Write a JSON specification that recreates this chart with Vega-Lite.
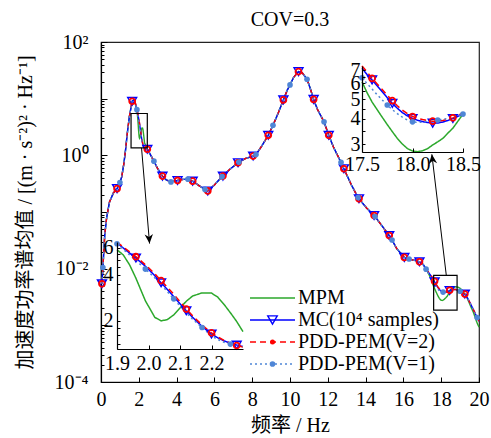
{
  "$schema": "https://vega.github.io/schema/vega-lite/v6.json",
  "width": 378,
  "height": 340,
  "autosize": {"type": "none"},
  "padding": {"left": 101, "top": 42, "right": 12, "bottom": 56},
  "title": {"text": "COV=0.3", "offset": 2},
  "config": {
    "font": "Liberation Serif",
    "view": {"stroke": "#222", "strokeWidth": 1.2},
    "axis": {
      "grid": false,
      "domainColor": "#000",
      "domainWidth": 1.2,
      "tickColor": "#000",
      "labelColor": "#000",
      "titleColor": "#000",
      "labelFont": "Liberation Serif",
      "labelFontSize": 20,
      "labelOverlap": false,
      "titleFont": "Liberation Serif, Noto Sans CJK SC",
      "titleFontSize": 20,
      "titleFontWeight": "normal"
    },
    "title": {"font": "Liberation Serif", "fontSize": 20, "fontWeight": "normal", "color": "#000"},
    "text": {"font": "Liberation Serif", "fontSize": 20, "color": "#000"}
  },
  "datasets": {
    "psd": [
      {"f": 0.05, "MPM": 0.0054, "MC": 0.0054, "V2": 0.0054, "V1": 0.0054},
      {"f": 0.1, "MPM": 0.0105, "MC": 0.0105, "V2": 0.0105, "V1": 0.0105},
      {"f": 0.2, "MPM": 0.04, "MC": 0.04, "V2": 0.04, "V1": 0.04},
      {"f": 0.3, "MPM": 0.08, "MC": 0.08, "V2": 0.08, "V1": 0.08},
      {"f": 0.45, "MPM": 0.15, "MC": 0.15, "V2": 0.15, "V1": 0.15},
      {"f": 0.65, "MPM": 0.215, "MC": 0.215, "V2": 0.215, "V1": 0.215},
      {"f": 0.85, "MPM": 0.258, "MC": 0.258, "V2": 0.258, "V1": 0.258},
      {"f": 1.0, "MPM": 0.33, "MC": 0.33, "V2": 0.33, "V1": 0.33},
      {"f": 1.1, "MPM": 0.42, "MC": 0.42, "V2": 0.42, "V1": 0.42},
      {"f": 1.2, "MPM": 0.68, "MC": 0.68, "V2": 0.68, "V1": 0.68},
      {"f": 1.3, "MPM": 1.25, "MC": 1.25, "V2": 1.25, "V1": 1.25},
      {"f": 1.4, "MPM": 2.6, "MC": 2.6, "V2": 2.6, "V1": 2.6},
      {"f": 1.5, "MPM": 4.8, "MC": 4.8, "V2": 4.8, "V1": 4.8},
      {"f": 1.65, "MPM": 9.0, "MC": 9.0, "V2": 9.0, "V1": 9.0},
      {"f": 1.75, "MPM": 9.6, "MC": 9.6, "V2": 9.6, "V1": 9.6},
      {"f": 1.8, "MPM": 8.6, "MC": 8.8, "V2": 8.9, "V1": 8.7},
      {"f": 1.9, "MPM": 5.84, "MC": 6.47, "V2": 6.55, "V1": 6.4},
      {"f": 1.92, "MPM": 5.4, "MC": 6.0, "V2": 6.1, "V1": 5.88},
      {"f": 1.94, "MPM": 4.65, "MC": 5.55, "V2": 5.66, "V1": 5.4},
      {"f": 1.96, "MPM": 3.8, "MC": 5.15, "V2": 5.26, "V1": 4.98},
      {"f": 1.99, "MPM": 2.7, "MC": 4.55, "V2": 4.66, "V1": 4.36},
      {"f": 2.02, "MPM": 2.1, "MC": 3.95, "V2": 4.06, "V1": 3.82},
      {"f": 2.04, "MPM": 1.99, "MC": 3.54, "V2": 3.66, "V1": 3.45},
      {"f": 2.06, "MPM": 2.03, "MC": 3.2, "V2": 3.31, "V1": 3.1},
      {"f": 2.08, "MPM": 2.18, "MC": 2.88, "V2": 2.98, "V1": 2.78},
      {"f": 2.1, "MPM": 2.42, "MC": 2.58, "V2": 2.66, "V1": 2.5},
      {"f": 2.12, "MPM": 2.68, "MC": 2.32, "V2": 2.38, "V1": 2.25},
      {"f": 2.14, "MPM": 2.9, "MC": 2.1, "V2": 2.15, "V1": 2.04},
      {"f": 2.17, "MPM": 3.04, "MC": 1.83, "V2": 1.87, "V1": 1.8},
      {"f": 2.2, "MPM": 3.03, "MC": 1.63, "V2": 1.66, "V1": 1.59},
      {"f": 2.22, "MPM": 2.85, "MC": 1.54, "V2": 1.56, "V1": 1.5},
      {"f": 2.24, "MPM": 2.55, "MC": 1.47, "V2": 1.48, "V1": 1.44},
      {"f": 2.26, "MPM": 2.25, "MC": 1.42, "V2": 1.42, "V1": 1.4},
      {"f": 2.28, "MPM": 1.97, "MC": 1.38, "V2": 1.37, "V1": 1.37},
      {"f": 2.3, "MPM": 1.69, "MC": 1.35, "V2": 1.34, "V1": 1.35},
      {"f": 2.37, "MPM": 1.45, "MC": 1.31, "V2": 1.31, "V1": 1.31},
      {"f": 2.45, "MPM": 1.29, "MC": 1.28, "V2": 1.28, "V1": 1.28},
      {"f": 2.6, "MPM": 1.05, "MC": 1.05, "V2": 1.05, "V1": 1.05},
      {"f": 2.8, "MPM": 0.79, "MC": 0.79, "V2": 0.79, "V1": 0.79},
      {"f": 3.0, "MPM": 0.58, "MC": 0.58, "V2": 0.58, "V1": 0.58},
      {"f": 3.25, "MPM": 0.43, "MC": 0.43, "V2": 0.43, "V1": 0.43},
      {"f": 3.45, "MPM": 0.37, "MC": 0.37, "V2": 0.37, "V1": 0.37},
      {"f": 3.7, "MPM": 0.34, "MC": 0.34, "V2": 0.34, "V1": 0.34},
      {"f": 4.05, "MPM": 0.36, "MC": 0.36, "V2": 0.36, "V1": 0.36},
      {"f": 4.3, "MPM": 0.375, "MC": 0.375, "V2": 0.375, "V1": 0.375},
      {"f": 4.6, "MPM": 0.38, "MC": 0.38, "V2": 0.38, "V1": 0.38},
      {"f": 4.85, "MPM": 0.35, "MC": 0.35, "V2": 0.35, "V1": 0.35},
      {"f": 5.2, "MPM": 0.29, "MC": 0.29, "V2": 0.29, "V1": 0.29},
      {"f": 5.5, "MPM": 0.25, "MC": 0.25, "V2": 0.25, "V1": 0.25},
      {"f": 5.65, "MPM": 0.235, "MC": 0.235, "V2": 0.235, "V1": 0.235},
      {"f": 6.0, "MPM": 0.3, "MC": 0.3, "V2": 0.3, "V1": 0.3},
      {"f": 6.4, "MPM": 0.42, "MC": 0.42, "V2": 0.42, "V1": 0.42},
      {"f": 6.45, "MPM": 0.43, "MC": 0.43, "V2": 0.43, "V1": 0.43},
      {"f": 6.8, "MPM": 0.56, "MC": 0.56, "V2": 0.56, "V1": 0.56},
      {"f": 7.25, "MPM": 0.74, "MC": 0.74, "V2": 0.74, "V1": 0.74},
      {"f": 7.3, "MPM": 0.76, "MC": 0.76, "V2": 0.76, "V1": 0.76},
      {"f": 7.65, "MPM": 0.88, "MC": 0.88, "V2": 0.88, "V1": 0.88},
      {"f": 8.05, "MPM": 0.97, "MC": 0.97, "V2": 0.97, "V1": 0.97},
      {"f": 8.2, "MPM": 1.03, "MC": 1.03, "V2": 1.03, "V1": 1.03},
      {"f": 8.5, "MPM": 1.45, "MC": 1.45, "V2": 1.45, "V1": 1.45},
      {"f": 8.85, "MPM": 2.26, "MC": 2.26, "V2": 2.26, "V1": 2.26},
      {"f": 9.1, "MPM": 3.4, "MC": 3.4, "V2": 3.4, "V1": 3.4},
      {"f": 9.35, "MPM": 5.3, "MC": 5.3, "V2": 5.3, "V1": 5.3},
      {"f": 9.65, "MPM": 9.5, "MC": 9.5, "V2": 9.5, "V1": 9.5},
      {"f": 9.85, "MPM": 14, "MC": 14, "V2": 14, "V1": 14},
      {"f": 10.0, "MPM": 17.5, "MC": 17.5, "V2": 17.5, "V1": 17.5},
      {"f": 10.2, "MPM": 24, "MC": 24, "V2": 24, "V1": 24},
      {"f": 10.45, "MPM": 30, "MC": 30, "V2": 30, "V1": 30},
      {"f": 10.65, "MPM": 28.5, "MC": 28.5, "V2": 28.5, "V1": 28.5},
      {"f": 10.9, "MPM": 22, "MC": 22, "V2": 22, "V1": 22},
      {"f": 11.05, "MPM": 16, "MC": 16, "V2": 16, "V1": 16},
      {"f": 11.25, "MPM": 9.7, "MC": 9.7, "V2": 9.7, "V1": 9.7},
      {"f": 11.45, "MPM": 6.5, "MC": 6.5, "V2": 6.5, "V1": 6.5},
      {"f": 11.8, "MPM": 3.9, "MC": 3.9, "V2": 3.9, "V1": 3.9},
      {"f": 12.05, "MPM": 2.26, "MC": 2.26, "V2": 2.26, "V1": 2.26},
      {"f": 12.3, "MPM": 1.4, "MC": 1.4, "V2": 1.4, "V1": 1.4},
      {"f": 12.7, "MPM": 0.75, "MC": 0.75, "V2": 0.75, "V1": 0.75},
      {"f": 12.85, "MPM": 0.58, "MC": 0.58, "V2": 0.58, "V1": 0.58},
      {"f": 13.25, "MPM": 0.3, "MC": 0.3, "V2": 0.3, "V1": 0.3},
      {"f": 13.6, "MPM": 0.18, "MC": 0.18, "V2": 0.18, "V1": 0.18},
      {"f": 13.65, "MPM": 0.171, "MC": 0.171, "V2": 0.171, "V1": 0.171},
      {"f": 14.05, "MPM": 0.118, "MC": 0.118, "V2": 0.118, "V1": 0.118},
      {"f": 14.45, "MPM": 0.0867, "MC": 0.0867, "V2": 0.0867, "V1": 0.0867},
      {"f": 14.5, "MPM": 0.083, "MC": 0.083, "V2": 0.083, "V1": 0.083},
      {"f": 14.85, "MPM": 0.058, "MC": 0.058, "V2": 0.058, "V1": 0.058},
      {"f": 15.25, "MPM": 0.0384, "MC": 0.0384, "V2": 0.0384, "V1": 0.0384},
      {"f": 15.4, "MPM": 0.032, "MC": 0.032, "V2": 0.032, "V1": 0.032},
      {"f": 15.65, "MPM": 0.0225, "MC": 0.0225, "V2": 0.0225, "V1": 0.0225},
      {"f": 16.05, "MPM": 0.0158, "MC": 0.0158, "V2": 0.0158, "V1": 0.0158},
      {"f": 16.3, "MPM": 0.0148, "MC": 0.0148, "V2": 0.0148, "V1": 0.0148},
      {"f": 16.6, "MPM": 0.014, "MC": 0.014, "V2": 0.014, "V1": 0.014},
      {"f": 16.85, "MPM": 0.0132, "MC": 0.0132, "V2": 0.0132, "V1": 0.0132},
      {"f": 17.05, "MPM": 0.0118, "MC": 0.0118, "V2": 0.0118, "V1": 0.0118},
      {"f": 17.2, "MPM": 0.0098, "MC": 0.0098, "V2": 0.0098, "V1": 0.0098},
      {"f": 17.35, "MPM": 0.0079, "MC": 0.0084, "V2": 0.0085, "V1": 0.0079},
      {"f": 17.5, "MPM": 0.00612, "MC": 0.00714, "V2": 0.00733, "V1": 0.00641},
      {"f": 17.55, "MPM": 0.0054, "MC": 0.00665, "V2": 0.00685, "V1": 0.006},
      {"f": 17.6, "MPM": 0.00485, "MC": 0.00625, "V2": 0.00636, "V1": 0.00563},
      {"f": 17.65, "MPM": 0.00445, "MC": 0.00585, "V2": 0.00597, "V1": 0.00528},
      {"f": 17.7, "MPM": 0.00408, "MC": 0.00546, "V2": 0.0056, "V1": 0.00497},
      {"f": 17.75, "MPM": 0.00375, "MC": 0.0051, "V2": 0.00525, "V1": 0.00469},
      {"f": 17.8, "MPM": 0.00346, "MC": 0.00478, "V2": 0.00493, "V1": 0.00445},
      {"f": 17.85, "MPM": 0.0032, "MC": 0.00452, "V2": 0.00465, "V1": 0.00425},
      {"f": 17.9, "MPM": 0.003, "MC": 0.0043, "V2": 0.00442, "V1": 0.00408},
      {"f": 17.95, "MPM": 0.00285, "MC": 0.00414, "V2": 0.00425, "V1": 0.00395},
      {"f": 18.0, "MPM": 0.00277, "MC": 0.00402, "V2": 0.00411, "V1": 0.00387},
      {"f": 18.05, "MPM": 0.00275, "MC": 0.00394, "V2": 0.00403, "V1": 0.00384},
      {"f": 18.1, "MPM": 0.00278, "MC": 0.00388, "V2": 0.00397, "V1": 0.00386},
      {"f": 18.15, "MPM": 0.00285, "MC": 0.00384, "V2": 0.00392, "V1": 0.0039},
      {"f": 18.2, "MPM": 0.00297, "MC": 0.00381, "V2": 0.0039, "V1": 0.00394},
      {"f": 18.25, "MPM": 0.00308, "MC": 0.00382, "V2": 0.0039, "V1": 0.00395},
      {"f": 18.3, "MPM": 0.0032, "MC": 0.00386, "V2": 0.00393, "V1": 0.00398},
      {"f": 18.35, "MPM": 0.0034, "MC": 0.00393, "V2": 0.00398, "V1": 0.00402},
      {"f": 18.4, "MPM": 0.0036, "MC": 0.00402, "V2": 0.00405, "V1": 0.00408},
      {"f": 18.45, "MPM": 0.0039, "MC": 0.00412, "V2": 0.00416, "V1": 0.00415},
      {"f": 18.5, "MPM": 0.00423, "MC": 0.00423, "V2": 0.00428, "V1": 0.00423},
      {"f": 18.6, "MPM": 0.0046, "MC": 0.0043, "V2": 0.0043, "V1": 0.0043},
      {"f": 18.75, "MPM": 0.0048, "MC": 0.0043, "V2": 0.0043, "V1": 0.0043},
      {"f": 18.9, "MPM": 0.0047, "MC": 0.0041, "V2": 0.0041, "V1": 0.0041},
      {"f": 19.0, "MPM": 0.0045, "MC": 0.004, "V2": 0.004, "V1": 0.004},
      {"f": 19.1, "MPM": 0.0042, "MC": 0.0038, "V2": 0.0038, "V1": 0.0038},
      {"f": 19.25, "MPM": 0.0036, "MC": 0.00356, "V2": 0.00356, "V1": 0.00356},
      {"f": 19.4, "MPM": 0.0029, "MC": 0.003, "V2": 0.003, "V1": 0.003},
      {"f": 19.55, "MPM": 0.0022, "MC": 0.0024, "V2": 0.0024, "V1": 0.0024},
      {"f": 19.7, "MPM": 0.0017, "MC": 0.0019, "V2": 0.0019, "V1": 0.0019},
      {"f": 19.9, "MPM": 0.0011, "MC": 0.00137, "V2": 0.00137, "V1": 0.00137},
      {"f": 20.0, "MPM": 0.00093, "MC": 0.00118, "V2": 0.00118, "V1": 0.00118}
    ],
    "legendRows": [
      {"s": "MPM", "label": "MPM"},
      {"s": "MC", "label": "MC(10⁴ samples)"},
      {"s": "V2", "label": "PDD-PEM(V=2)"},
      {"s": "V1", "label": "PDD-PEM(V=1)"}
    ],
    "zoomBoxes": [
      {"f0": 1.59, "f1": 2.45, "v0": 1.35, "v1": 5.47},
      {"f0": 17.6, "f1": 18.84, "v0": 0.00185, "v1": 0.0076}
    ],
    "pointers": [
      {"f0": 2.145, "v0": 1.35, "f1": 2.569, "v1": 0.0277, "heading": -4.8},
      {"f0": 18.27, "v0": 0.0076, "f1": 17.505, "v1": 1.04, "heading": 173.2}
    ]
  },
  "layer": [
    {
      "data": {"name": "psd"},
      "encoding": {
        "x": {
          "field": "f", "type": "quantitative",
          "scale": {"domain": [0, 20], "nice": false},
          "axis": {"title": "频率 / Hz", "values": [0, 2, 4, 6, 8, 10, 12, 14, 16, 18, 20], "tickSize": -5, "labelPadding": 12, "titlePadding": 6, "labelFlush": false}
        },
        "y": {
          "field": "v", "type": "quantitative",
          "scale": {"type": "log", "domain": [0.0001, 100], "nice": false},
          "axis": {
            "title": "加速度功率谱均值 / [(m · s⁻²)² · Hz⁻¹]",
            "values": [0.0001, 0.0002, 0.0003, 0.0004, 0.0005, 0.0006, 0.0007, 0.0008, 0.0009, 0.001, 0.002, 0.003, 0.004, 0.005, 0.006, 0.007, 0.008, 0.009, 0.01, 0.02, 0.03, 0.04, 0.05, 0.06, 0.07, 0.08, 0.09, 0.1, 0.2, 0.3, 0.4, 0.5, 0.6, 0.7, 0.8, 0.9, 1, 2, 3, 4, 5, 6, 7, 8, 9, 10, 20, 30, 40, 50, 60, 70, 80, 90, 100],
            "labelExpr": "datum.value == 100 ? '10²' : datum.value == 1 ? '10⁰' : datum.value == 0.01 ? '10⁻²' : datum.value == 0.0001 ? '10⁻⁴' : ''",
            "tickSize": {"condition": {"test": "indexof([0.0001, 0.001, 0.01, 0.1, 1, 10, 100], datum.value) >= 0", "value": -6}, "value": -3},
            "labelPadding": 19,
            "titlePadding": 19
          }
        }
      },
      "layer": [
        {
          "transform": [{"fold": ["MPM", "MC", "V2", "V1"], "as": ["s", "v"]}],
          "mark": {"type": "line", "strokeWidth": 1.4},
          "encoding": {
            "color": {"field": "s", "type": "nominal", "scale": {"domain": ["MPM", "MC", "V2", "V1"], "range": ["#2ca82c", "#0000ff", "#ff0000", "#4f86d6"]}, "legend": null},
            "strokeDash": {"field": "s", "type": "nominal", "scale": {"domain": ["MPM", "MC", "V2", "V1"], "range": [[1, 0], [1, 0], [6, 4], [2, 3]]}, "legend": null}
          }
        },
        {
          "transform": [{"filter": {"field": "f", "oneOf": [0.05, 0.85, 1.65, 2.45, 3.25, 4.05, 4.85, 5.65, 6.45, 7.25, 8.05, 8.85, 9.65, 10.45, 11.25, 12.05, 12.85, 13.65, 14.45, 15.25, 16.05, 16.85, 17.65, 18.45, 19.25]}}, {"fold": ["MC"], "as": ["s", "v"]}],
          "mark": {"type": "point", "shape": "triangle-down", "filled": false, "color": "#0000ff", "size": 80, "strokeWidth": 1.4, "opacity": 1}
        },
        {
          "transform": [{"filter": {"field": "f", "oneOf": [0.05, 0.85, 1.65, 2.45, 3.25, 4.05, 4.85, 5.65, 6.45, 7.25, 8.05, 8.85, 9.65, 10.45, 11.25, 12.05, 12.85, 13.65, 14.45, 15.25, 16.05, 16.85, 17.65, 18.45, 19.25]}}, {"fold": ["V2"], "as": ["s", "v"]}],
          "mark": {"type": "point", "shape": "circle", "filled": false, "color": "#ff0000", "size": 35, "strokeWidth": 1.8, "opacity": 1}
        },
        {
          "transform": [{"filter": {"field": "f", "oneOf": [0.1, 1.0, 1.9, 2.8, 3.7, 4.6, 5.5, 6.4, 7.3, 8.2, 9.1, 10.0, 10.9, 11.8, 12.7, 13.6, 14.5, 15.4, 16.3, 17.2, 18.1, 19.0, 19.9]}}, {"fold": ["V1"], "as": ["s", "v"]}],
          "mark": {"type": "point", "shape": "circle", "filled": true, "color": "#4f86d6", "size": 32, "opacity": 1}
        }
      ]
    },
    {
      "layer": [
        {
          "data": {"name": "zoomBoxes"},
          "mark": {"type": "rect", "fill": "transparent", "stroke": "#000", "strokeWidth": 1.2},
          "encoding": {
            "x": {"field": "f0", "type": "quantitative", "scale": {"domain": [0, 20], "nice": false}, "axis": null},
            "x2": {"field": "f1"},
            "y": {"field": "v0", "type": "quantitative", "scale": {"type": "log", "domain": [0.0001, 100], "nice": false}, "axis": null},
            "y2": {"field": "v1"}
          }
        },
        {
          "data": {"name": "pointers"},
          "mark": {"type": "rule", "color": "#000", "strokeWidth": 1},
          "encoding": {
            "x": {"field": "f0", "type": "quantitative"},
            "x2": {"field": "f1"},
            "y": {"field": "v0", "type": "quantitative"},
            "y2": {"field": "v1"}
          }
        }
      ]
    },
    {
      "data": {"name": "psd"},
      "encoding": {
        "x": {
          "field": "f", "type": "quantitative",
          "scale": {"domain": [1.9, 2.3], "range": [16, 142], "nice": false, "zero": false},
          "axis": {"orient": "bottom", "offset": -33, "title": null, "values": [1.9, 2.0, 2.1, 2.2], "format": ".1f", "tickSize": -4, "labelPadding": 8, "labelFlush": false, "zindex": 1}
        },
        "y": {
          "field": "v", "type": "quantitative",
          "scale": {"type": "log", "domain": [1.3, 6.57], "range": [307, 200], "nice": false},
          "axis": {"orient": "left", "offset": -16, "title": null, "values": [1.4, 1.6, 1.8, 2, 2.5, 3, 3.5, 4, 4.5, 5, 5.5, 6], "labelExpr": "indexof([2, 4, 6], datum.value) >= 0 ? datum.value : ''", "tickSize": -3, "labelPadding": 7, "zindex": 1}
        }
      },
      "layer": [
        {
          "data": {"values": [{}]},
          "mark": {"type": "rect", "fill": "#fff", "stroke": "#000", "strokeWidth": 1.2},
          "encoding": {"x": {"datum": 1.9}, "x2": {"datum": 2.3}, "y": {"datum": 1.3}, "y2": {"datum": 6.57}}
        },
        {
          "transform": [{"filter": "datum.f >= 1.9 && datum.f <= 2.3"}, {"fold": ["MPM", "MC", "V2", "V1"], "as": ["s", "v"]}],
          "mark": {"type": "line", "strokeWidth": 1.5},
          "encoding": {
            "color": {"field": "s", "type": "nominal", "scale": {"domain": ["MPM", "MC", "V2", "V1"], "range": ["#2ca82c", "#0000ff", "#ff0000", "#4f86d6"]}, "legend": null},
            "strokeDash": {"field": "s", "type": "nominal", "scale": {"domain": ["MPM", "MC", "V2", "V1"], "range": [[1, 0], [1, 0], [6, 4], [2, 3]]}, "legend": null}
          }
        },
        {
          "transform": [{"filter": {"field": "f", "oneOf": [1.96, 2.04, 2.12, 2.2, 2.28]}}, {"fold": ["MC"], "as": ["s", "v"]}],
          "mark": {"type": "point", "shape": "triangle-down", "filled": false, "color": "#0000ff", "size": 80, "strokeWidth": 1.4, "opacity": 1}
        },
        {
          "transform": [{"filter": {"field": "f", "oneOf": [1.96, 2.04, 2.12, 2.2, 2.28]}}, {"fold": ["V2"], "as": ["s", "v"]}],
          "mark": {"type": "point", "shape": "circle", "filled": false, "color": "#ff0000", "size": 35, "strokeWidth": 1.8, "opacity": 1}
        },
        {
          "transform": [{"filter": {"field": "f", "oneOf": [1.9, 1.99, 2.08, 2.17, 2.26]}}, {"fold": ["V1"], "as": ["s", "v"]}],
          "mark": {"type": "point", "shape": "circle", "filled": true, "color": "#4f86d6", "size": 32, "opacity": 1}
        }
      ]
    },
    {
      "data": {"name": "psd"},
      "encoding": {
        "x": {
          "field": "f", "type": "quantitative",
          "scale": {"domain": [17.5, 18.5], "range": [261, 362], "nice": false, "zero": false},
          "axis": {"orient": "bottom", "offset": -230, "title": null, "values": [17.5, 18.0, 18.5], "format": ".1f", "tickSize": -4, "labelPadding": 6, "labelFlush": false, "zindex": 1}
        },
        "y": {
          "field": "v", "type": "quantitative",
          "scale": {"type": "log", "domain": [0.00274, 0.00733], "range": [110, 24], "nice": false},
          "axis": {"orient": "left", "offset": -261, "title": null, "values": [0.003, 0.0035, 0.004, 0.0045, 0.005, 0.0055, 0.006, 0.0065, 0.007], "labelExpr": "abs(datum.value * 1000 - round(datum.value * 1000)) < 0.000001 ? format(round(datum.value * 1000), 'd') : ''", "tickSize": -3, "labelPadding": 5, "zindex": 1}
        }
      },
      "layer": [
        {
          "data": {"values": [{}]},
          "mark": {"type": "rect", "fill": "#fff", "stroke": "#000", "strokeWidth": 1.2},
          "encoding": {"x": {"datum": 17.5}, "x2": {"datum": 18.5}, "y": {"datum": 0.00274}, "y2": {"datum": 0.00733}}
        },
        {
          "transform": [{"filter": "datum.f >= 17.5 && datum.f <= 18.5"}, {"fold": ["MPM", "MC", "V2", "V1"], "as": ["s", "v"]}],
          "mark": {"type": "line", "strokeWidth": 1.5},
          "encoding": {
            "color": {"field": "s", "type": "nominal", "scale": {"domain": ["MPM", "MC", "V2", "V1"], "range": ["#2ca82c", "#0000ff", "#ff0000", "#4f86d6"]}, "legend": null},
            "strokeDash": {"field": "s", "type": "nominal", "scale": {"domain": ["MPM", "MC", "V2", "V1"], "range": [[1, 0], [1, 0], [6, 4], [2, 3]]}, "legend": null}
          }
        },
        {
          "transform": [{"filter": {"field": "f", "oneOf": [17.6, 17.8, 18.0, 18.2, 18.4]}}, {"fold": ["MC"], "as": ["s", "v"]}],
          "mark": {"type": "point", "shape": "triangle-down", "filled": false, "color": "#0000ff", "size": 80, "strokeWidth": 1.4, "opacity": 1}
        },
        {
          "transform": [{"filter": {"field": "f", "oneOf": [17.6, 17.8, 18.0, 18.2, 18.4]}}, {"fold": ["V2"], "as": ["s", "v"]}],
          "mark": {"type": "point", "shape": "circle", "filled": false, "color": "#ff0000", "size": 35, "strokeWidth": 1.8, "opacity": 1}
        },
        {
          "transform": [{"filter": {"field": "f", "oneOf": [17.5, 17.75, 18.0, 18.25, 18.5]}}, {"fold": ["V1"], "as": ["s", "v"]}],
          "mark": {"type": "point", "shape": "circle", "filled": true, "color": "#4f86d6", "size": 32, "opacity": 1}
        },
        {
          "data": {"values": [{}]},
          "mark": {"type": "text", "align": "left", "baseline": "alphabetic", "dx": 1, "dy": -3, "fontSize": 20},
          "encoding": {"x": {"datum": 17.5}, "y": {"datum": 0.00733}, "text": {"value": "×10⁻³"}}
        }
      ]
    },
    {
      "data": {"name": "pointers"},
      "mark": {"type": "point", "shape": "M0,0L-0.45,-1L0,-0.7L0.45,-1Z", "filled": true, "color": "#000", "size": 350, "opacity": 1},
      "encoding": {
        "x": {"field": "f1", "type": "quantitative", "scale": {"domain": [0, 20], "nice": false}, "axis": null},
        "y": {"field": "v1", "type": "quantitative", "scale": {"type": "log", "domain": [0.0001, 100], "nice": false}, "axis": null},
        "angle": {"field": "heading", "type": "quantitative", "scale": null}
      }
    },
    {
      "data": {"name": "legendRows"},
      "encoding": {
        "y": {"field": "s", "type": "nominal", "scale": {"type": "point", "domain": ["MPM", "MC", "V2", "V1"], "range": [256, 322], "padding": 0}, "axis": null}
      },
      "layer": [
        {
          "mark": {"type": "rule", "strokeWidth": 1.4},
          "encoding": {
            "x": {"datum": 0, "type": "quantitative", "scale": {"domain": [0, 1], "range": [149, 194]}, "axis": null},
            "x2": {"datum": 1},
            "color": {"field": "s", "type": "nominal", "scale": {"domain": ["MPM", "MC", "V2", "V1"], "range": ["#2ca82c", "#0000ff", "#ff0000", "#4f86d6"]}, "legend": null},
            "strokeDash": {"field": "s", "type": "nominal", "scale": {"domain": ["MPM", "MC", "V2", "V1"], "range": [[1, 0], [1, 0], [6, 4], [2, 3]]}, "legend": null}
          }
        },
        {
          "transform": [{"filter": "datum.s == 'MC'"}],
          "mark": {"type": "point", "shape": "triangle-down", "filled": false, "color": "#0000ff", "size": 90, "strokeWidth": 1.4, "opacity": 1},
          "encoding": {"x": {"datum": 0.5}}
        },
        {
          "transform": [{"filter": "datum.s == 'V2'"}],
          "mark": {"type": "point", "shape": "circle", "filled": true, "color": "#ff0000", "size": 25, "opacity": 1},
          "encoding": {"x": {"datum": 0.5}}
        },
        {
          "transform": [{"filter": "datum.s == 'V1'"}],
          "mark": {"type": "point", "shape": "circle", "filled": true, "color": "#4f86d6", "size": 32, "opacity": 1},
          "encoding": {"x": {"datum": 0.5}}
        },
        {
          "mark": {"type": "text", "align": "left", "baseline": "middle", "dx": 3, "fontSize": 20},
          "encoding": {"x": {"datum": 1}, "text": {"field": "label"}}
        }
      ]
    }
  ],
  "resolve": {
    "scale": {"x": "independent", "y": "independent"},
    "axis": {"x": "independent", "y": "independent"}
  }
}
